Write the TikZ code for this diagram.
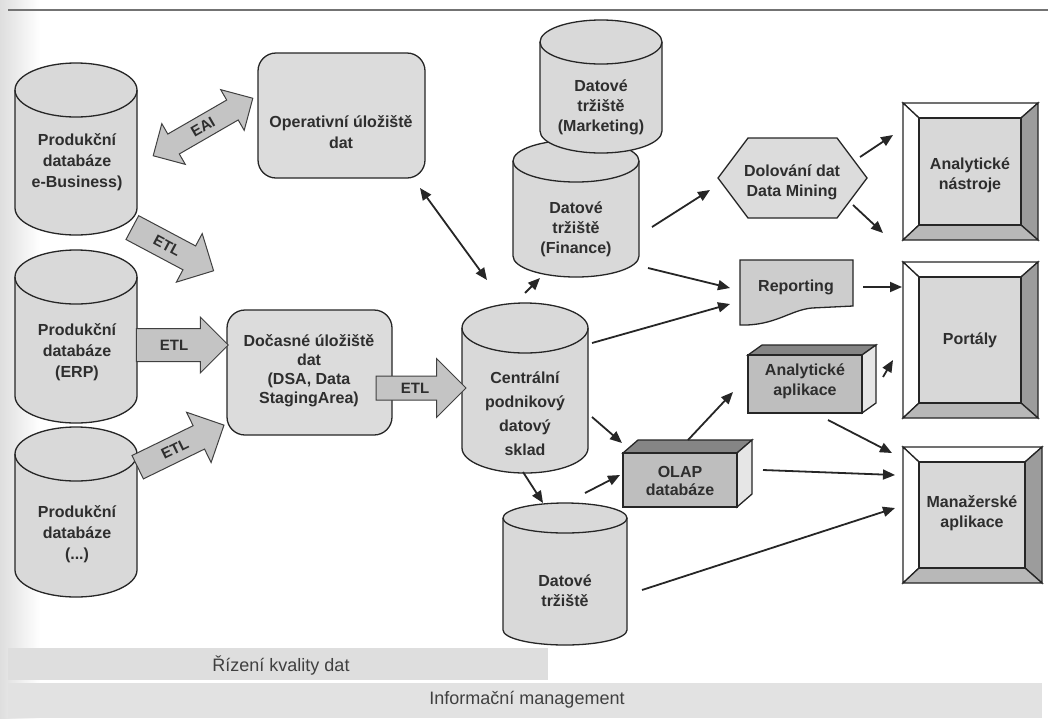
\documentclass[tikz,border=0pt]{standalone}
\usepackage{fontspec}
\setmainfont{Liberation Sans}
\usetikzlibrary{arrows.meta,shapes.arrows,shapes.geometric}
\definecolor{txt}{HTML}{2E2E2E}
\definecolor{cylfill}{HTML}{D9D9D9}
\definecolor{boxfill}{HTML}{DCDCDC}
\definecolor{arrowfill}{HTML}{C4C4C4}
\definecolor{facefill}{HTML}{D8D8D8}
\definecolor{bevright}{HTML}{9C9C9C}
\definecolor{bevbottom}{HTML}{B8B8B8}
\definecolor{cubefront}{HTML}{BEBEBE}
\definecolor{cubetop}{HTML}{858585}
\definecolor{cubeside}{HTML}{E6E6E6}
\definecolor{barA}{HTML}{DEDEDE}
\definecolor{barB}{HTML}{E2E2E2}
\tikzset{
  lbl/.style={font=\fontsize{16}{20}\selectfont\bfseries, text=txt, align=center, inner sep=0pt},
  bartext/.style={font=\fontsize{18}{20}\selectfont, text=black!75, inner sep=0pt},
  outline/.style={draw=black!85, line width=1.3pt},
  conn/.style={draw=black!85, line width=1.8pt, -{Triangle[length=12pt,width=10pt]}},
  conn2/.style={draw=black!85, line width=1.8pt, {Triangle[length=12pt,width=10pt]}-{Triangle[length=12pt,width=10pt]}},
  blk/.style={single arrow, draw=black!75, line width=1pt, fill=arrowfill,
    font=\fontsize{15}{15}\selectfont\bfseries, text=txt, text height=10pt, text depth=0pt,
    inner xsep=2pt, single arrow tip angle=90},
  dblk/.style={double arrow, draw=black!75, line width=1pt, fill=arrowfill,
    font=\fontsize{15}{15}\selectfont\bfseries, text=txt, text height=10pt, text depth=0pt,
    inner xsep=2pt, double arrow tip angle=90},
}
% cylinder: cx, top, bottom, rx, ry
\newcommand\dbcyl[5]{%
  \pgfmathsetmacro\tcy{#2+#5}\pgfmathsetmacro\bcy{#3-#5}%
  \filldraw[outline, fill=cylfill] ({#1-#4},\tcy) -- ({#1-#4},\bcy)
    arc[start angle=180,end angle=0,x radius=#4,y radius=#5] -- ({#1+#4},\tcy)
    arc[start angle=0,end angle=-180,x radius=#4,y radius=#5] -- cycle;
  \draw[outline] ({#1-#4},\tcy) arc[start angle=180,end angle=0,x radius=#4,y radius=#5];
}
% bevel frame: x1 y1 x2 y2
\newcommand\bevelframe[4]{%
  \filldraw[outline, fill=white] (#1,#2) -- (#3,#2) -- ({#3-17},{#2+15}) -- ({#1+16},{#2+15}) -- cycle;
  \filldraw[outline, fill=white] (#1,#2) -- ({#1+16},{#2+15}) -- ({#1+16},{#4-15}) -- (#1,#4) -- cycle;
  \filldraw[outline, fill=bevright] (#3,#2) -- (#3,#4) -- ({#3-17},{#4-15}) -- ({#3-17},{#2+15}) -- cycle;
  \filldraw[outline, fill=bevbottom] (#1,#4) -- ({#1+16},{#4-15}) -- ({#3-17},{#4-15}) -- (#3,#4) -- cycle;
  \filldraw[outline, fill=facefill] ({#1+16},{#2+15}) rectangle ({#3-17},{#4-15});
}
% 3D box: x1 y1 x2 y2 dx dy (front face)
\newcommand\cubebox[6]{%
  \filldraw[outline, fill=cubetop] (#1,#2) -- ({#1+#5},{#2-#6}) -- ({#3+#5},{#2-#6}) -- (#3,#2) -- cycle;
  \filldraw[outline, fill=cubeside] (#3,#2) -- ({#3+#5},{#2-#6}) -- ({#3+#5},{#4-#6}) -- (#3,#4) -- cycle;
  \filldraw[outline, fill=cubefront] (#1,#2) rectangle (#3,#4);
}
\begin{document}
\begin{tikzpicture}[x=1pt,y=-1pt]
\useasboundingbox (0,0) rectangle (1048,718);
\fill[white] (0,0) rectangle (1048,718);
\shade[left color=black!13, right color=white] (0,0) rectangle (40,718);
\draw[black!55, line width=1.5pt] (8,10) -- (1048,10);

% bottom bars
\fill[barA] (8,648) rectangle (548,680);
\node[bartext] (rizeni) at (281,665) {Řízení kvality dat};
\fill[barB] (8,683) rectangle (1042,718);
\node[bartext] (infomgmt) at (527,700) {Informační management};

% production databases
\dbcyl{76}{63}{235}{61}{27}
\node[lbl, font=\fontsize{16}{21}\selectfont\bfseries] (pdb1) at (77,162) {Produkční\\databáze\\e-Business)};
\dbcyl{76}{250}{423}{61}{27}
\node[lbl, font=\fontsize{16}{21}\selectfont\bfseries] (pdb2) at (77,352) {Produkční\\databáze\\(ERP)};
\dbcyl{76}{427}{597}{61}{27}
\node[lbl, font=\fontsize{16}{21}\selectfont\bfseries] (pdb3) at (77,534) {Produkční\\databáze\\(...)};

% rounded boxes
\filldraw[outline, fill=boxfill, rounded corners=18pt] (258,53) rectangle (425,178);
\node[lbl, font=\fontsize{16}{21}\selectfont\bfseries] (ods) at (341,132) {Operativní úložiště\\dat};
\filldraw[outline, fill=boxfill, rounded corners=18pt] (227,310) rectangle (392,435);
\node[lbl, font=\fontsize{16}{19}\selectfont\bfseries] (dsa) at (309,371) {Dočasné úložiště\\dat\\(DSA, Data\\StagingArea)};

% central warehouse and data marts
\dbcyl{525}{303}{473}{63}{25}
\node[lbl, font=\fontsize{16}{24}\selectfont\bfseries] (edw) at (525,414) {Centrální\\podnikový\\datový\\sklad};
\dbcyl{576}{140}{277}{63}{21}
\node[lbl] (dmfin) at (576,229) {Datové\\tržiště\\(Finance)};
\dbcyl{601}{20}{153}{61}{22}
\node[lbl] (dmmkt) at (601,107) {Datové\\tržiště\\(Marketing)};
\dbcyl{565}{503}{645}{62}{15}
\node[lbl] (dmbot) at (565,591) {Datové\\tržiště};

% OLAP and analytical apps
\cubebox{623}{453}{737}{507}{15}{13}
\node[lbl, font=\fontsize{16}{18}\selectfont\bfseries] (olap) at (680,481) {OLAP\\databáze};
\cubebox{748}{355}{862}{413}{14}{10}
\node[lbl, font=\fontsize{16}{20}\selectfont\bfseries] (anapp) at (805,381) {Analytické\\aplikace};

% data mining hexagon
\filldraw[outline, fill=boxfill] (718,178) -- (748,138) -- (837,138) -- (867,178) -- (837,218) -- (748,218) -- cycle;
\node[lbl] (dmining) at (792,182) {Dolování dat\\Data Mining};

% reporting document
\filldraw[outline, fill=arrowfill!85!white] (740,260) -- (853,260) -- (853,306) -- (812,308)
  .. controls (790,310) and (775,326) .. (740,325) -- cycle;
\node[lbl] (report) at (796,287) {Reporting};

% bevel frames
\bevelframe{903}{103}{1038}{240}
\node[lbl] (antools) at (970,175) {Analytické\\nástroje};
\bevelframe{903}{262}{1038}{418}
\node[lbl] (portal) at (970,340) {Portály};
\bevelframe{903}{447}{1042}{583}
\node[lbl] (mgmt) at (972,513) {Manažerské\\aplikace};

% block arrows
\node[dblk, rotate=30, minimum height=115pt, inner ysep=6pt, double arrow head extend=12pt] (eai) at (203,127) {EAI};
\node[blk, rotate=-28, minimum height=92pt, inner ysep=8pt, single arrow head extend=14pt] (etl1) at (167,246) {ETL};
\node[blk, minimum height=92pt, inner ysep=11pt, single arrow head extend=11.5pt] (etl2) at (174,345) {ETL};
\node[blk, rotate=26, minimum height=96pt, inner ysep=7.5pt, single arrow head extend=15pt] (etl3) at (175,449) {ETL};
\node[blk, minimum height=90pt, inner ysep=6.5pt, single arrow head extend=17.5pt] (etl4) at (415,388) {ETL};

% connector end points
\coordinate (odsA) at (420,188);
\coordinate (edwA) at (487,280);
\coordinate (edwB) at (525,293);
\coordinate (finA) at (540,278);
\coordinate (finB) at (652,227);
\coordinate (dmA) at (710,190);
\coordinate (finC) at (648,268);
\coordinate (repA) at (730,288);
\coordinate (edwC) at (592,343);
\coordinate (repB) at (730,304);
\coordinate (edwD) at (592,417);
\coordinate (olapA) at (622,443);
\coordinate (edwE) at (523,472);
\coordinate (botA) at (543,503);
\coordinate (botB) at (585,493);
\coordinate (olapB) at (620,475);
\coordinate (olapC) at (688,440);
\coordinate (anappA) at (733,392);
\coordinate (olapD) at (763,470);
\coordinate (mgmtA) at (895,475);
\coordinate (botC) at (642,590);
\coordinate (mgmtB) at (895,508);
\coordinate (anappB) at (828,420);
\coordinate (mgmtC) at (892,453);
\coordinate (anappC) at (883,377);
\coordinate (portA) at (893,360);
\coordinate (repC) at (863,287);
\coordinate (portB) at (902,287);
\coordinate (dmB) at (860,157);
\coordinate (antA) at (893,135);
\coordinate (dmC) at (853,205);
\coordinate (antB) at (883,233);

\draw[conn2] (odsA) -- (edwA);
\draw[conn] (edwB) -- (finA);
\draw[conn] (finB) -- (dmA);
\draw[conn] (finC) -- (repA);
\draw[conn] (edwC) -- (repB);
\draw[conn] (edwD) -- (olapA);
\draw[conn] (edwE) -- (botA);
\draw[conn] (botB) -- (olapB);
\draw[conn] (olapC) -- (anappA);
\draw[conn] (olapD) -- (mgmtA);
\draw[conn] (botC) -- (mgmtB);
\draw[conn] (anappB) -- (mgmtC);
\draw[conn] (anappC) -- (portA);
\draw[conn] (repC) -- (portB);
\draw[conn] (dmB) -- (antA);
\draw[conn] (dmC) -- (antB);
\end{tikzpicture}
\end{document}
